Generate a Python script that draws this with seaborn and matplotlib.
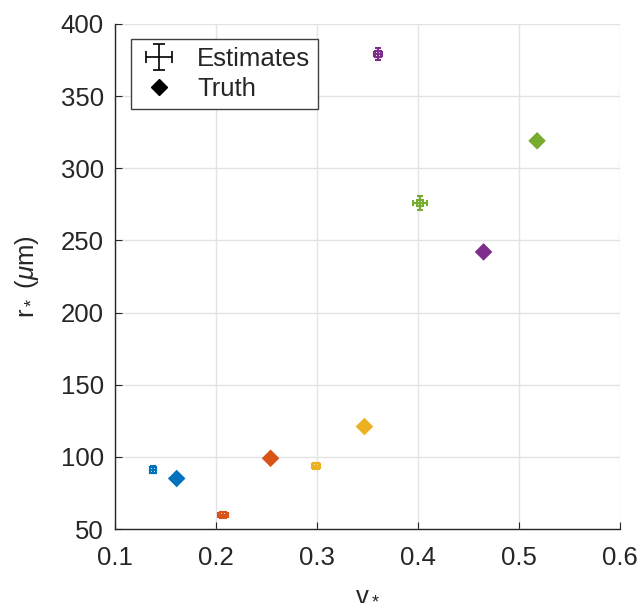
import numpy as np
import pandas as pd
import seaborn as sns
import matplotlib.pyplot as plt
from matplotlib.lines import Line2D

# values
groups = ["A", "B", "C", "D", "E"]
colors = ["#0072BD", "#D95319", "#EDB120", "#7E2F8E", "#77AC30"]

est_v = [0.138, 0.207, 0.299, 0.360, 0.402]
est_r = [91, 60, 94, 379, 276]
est_v_err = [0.003, 0.005, 0.004, 0.004, 0.007]
est_r_err = [2.5, 2, 2, 4, 5]

true_v = [0.161, 0.254, 0.347, 0.465, 0.518]
true_r = [85, 99, 121, 242, 319]

sns.set_style("white")
plt.rcParams['font.family'] = ['Liberation Sans', 'DejaVu Sans']
plt.rcParams['mathtext.fontset'] = 'custom'
plt.rcParams['mathtext.rm'] = 'Liberation Sans'
plt.rcParams['mathtext.it'] = 'Liberation Sans:italic'

fig = plt.figure(figsize=(6.43, 6.13), dpi=100)
ax = fig.add_axes([0.179, 0.137, 0.785, 0.824])

truth = pd.DataFrame({"v": true_v, "r": true_r, "g": groups})
sns.scatterplot(data=truth, x="v", y="r", hue="g", palette=colors, marker="D",
                s=80, edgecolor="none", legend=False, ax=ax, zorder=3)

for i in range(len(groups)):
    ax.errorbar(est_v[i], est_r[i], xerr=est_v_err[i], yerr=est_r_err[i],
                fmt="s", color=colors[i], ms=4, mfc="none", mew=1.5,
                elinewidth=1.5, capsize=2, capthick=1.5, zorder=3)

ax.set_xlim(0.1, 0.6)
ax.set_ylim(50, 400)
ax.set_xticks(np.arange(0.1, 0.61, 0.1))
ax.set_yticks(np.arange(50, 401, 50))
ax.grid(True, color="#e3e3e3", linewidth=1)
ax.set_axisbelow(True)
for s in ["top", "right"]:
    ax.spines[s].set_visible(False)
for s in ["left", "bottom"]:
    ax.spines[s].set_color("#262626")
    ax.spines[s].set_linewidth(1)
ax.tick_params(direction="in", length=5, labelsize=18.5, colors="#262626",
               bottom=True, left=True)
ax.tick_params(axis="x", pad=12)
ax.tick_params(axis="y", pad=8)
ax.set_xlabel(r"v$_*$", fontsize=18.5, color="#262626", labelpad=8)
ax.set_ylabel(r"r$_*$ ($\mu$m)", fontsize=18.5, color="#262626", labelpad=14)

# legend with black proxies
eb = ax.errorbar([np.nan], [np.nan], xerr=[0.01], yerr=[5], fmt="none", ecolor="k",
                 elinewidth=1.2, capsize=4, capthick=1.2)
dm = Line2D([], [], marker="D", color="k", linestyle="none", markersize=8)
leg = ax.legend([eb, dm], ["Estimates", "Truth"], loc="upper left", fontsize=18.5,
                frameon=True, fancybox=False, framealpha=1, edgecolor="#404040",
                borderaxespad=0.6, handlelength=1.6, handletextpad=0.7,
                labelspacing=0.25, borderpad=0.3)
leg.get_frame().set_linewidth(1)

fig.savefig("out.png", dpi=100)
